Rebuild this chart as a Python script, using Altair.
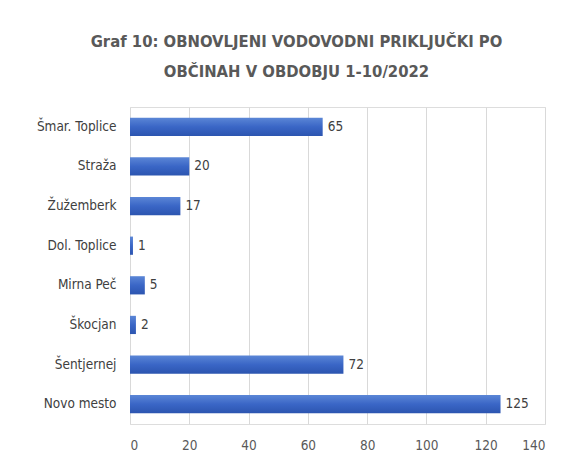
import altair as alt
import pandas as pd

categories = ["Šmar. Toplice", "Straža", "Žužemberk", "Dol. Toplice", "Mirna Peč", "Škocjan", "Šentjernej", "Novo mesto"]
values = [65, 20, 17, 1, 5, 2, 72, 125]
x_ticks = [0, 20, 40, 60, 80, 100, 120, 140]

df = pd.DataFrame({"obcina": categories, "stevilo": values})

FONT = "DejaVu Sans Condensed, Roboto, sans-serif"

base = alt.Chart(df).encode(
    y=alt.Y("obcina:N", sort=categories, title=None,
            scale=alt.Scale(paddingInner=0.54, paddingOuter=0.27),
            axis=alt.Axis(labelFont=FONT, labelFontSize=13.5, labelColor="#404040",
                          ticks=False, domain=False, labelPadding=14)),
    x=alt.X("stevilo:Q", title=None,
            scale=alt.Scale(domain=[0, 140], nice=False),
            axis=alt.Axis(values=x_ticks, labelFont=FONT, labelFontSize=13.5, labelColor="#595959",
                          ticks=False, domain=False, labelPadding=14,
                          gridColor="#d9d9d9", gridWidth=1)),
)

bars = base.mark_bar(
    color=alt.Gradient(gradient="linear", x1=0, y1=0, x2=0, y2=1,
                       stops=[alt.GradientStop(offset=0, color="#5b86d6"),
                              alt.GradientStop(offset=0.5, color="#3a66c6"),
                              alt.GradientStop(offset=1, color="#2c55b0")])
)

labels = base.mark_text(align="left", dx=5, font=FONT, fontSize=13.5, color="#404040").encode(
    text="stevilo:Q"
)

chart = (bars + labels).properties(
    width=415, height=317,
    autosize=alt.AutoSizeParams(type="none"),
    padding={"left": 122, "top": 99, "right": 12, "bottom": 35},
    title=alt.TitleParams(
        text=["Graf 10: OBNOVLJENI VODOVODNI PRIKLJUČKI  PO", "OBČINAH V OBDOBJU  1-10/2022"],
        font=FONT, fontSize=16.5, fontWeight="bold", color="#595959",
        anchor="middle", dx=-41, offset=27, lineHeight=30,
    ),
).configure_view(stroke=None).configure(background="white")

chart.save("out.html", embed_options={"renderer": "svg", "actions": False})
